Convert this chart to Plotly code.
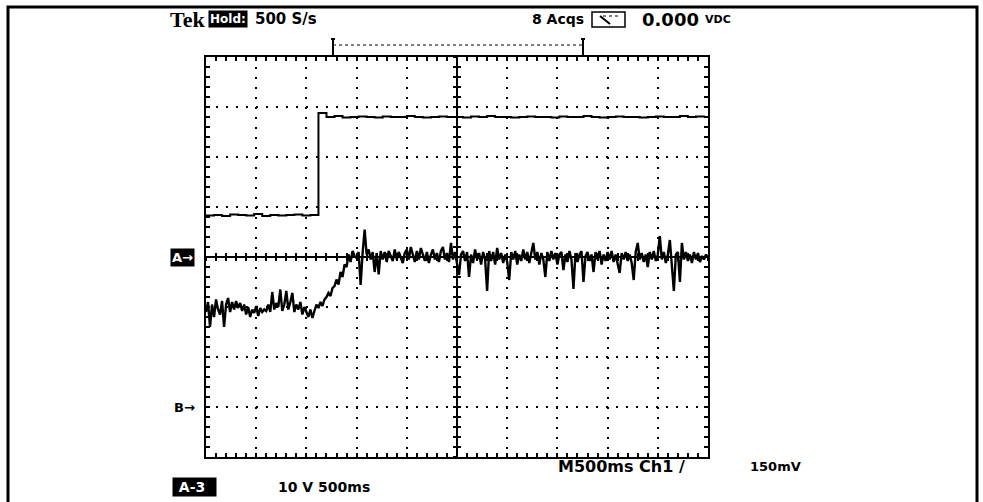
import plotly.graph_objects as go

# screen: 10 x 500 ms across, 8 divisions up/down, values in divisions
step_period = 0.08   # s between samples
noise_period = 0.02  # s between samples

step_trace = [
    0.83, 0.84, 0.82, 0.85, 0.84, 0.83, 0.86, 0.82, 0.84, 0.83, 0.84, 0.85, 0.83, 0.84,
    2.88, 2.80, 2.82, 2.79, 2.80, 2.81, 2.80, 2.79, 2.81, 2.80, 2.80, 2.82, 2.80, 2.79,
    2.80, 2.81, 2.80, 2.80, 2.79, 2.81, 2.80, 2.82, 2.80, 2.80, 2.79, 2.80, 2.81, 2.80,
    2.80, 2.79, 2.81, 2.80, 2.80, 2.82, 2.80, 2.79, 2.80, 2.81, 2.80, 2.80, 2.79, 2.80,
    2.81, 2.80, 2.80, 2.82, 2.80, 2.81, 2.80,
]

noise_trace = [
    -1.10, -0.90, -1.40, -0.95, -1.20, -0.85, -1.05, -1.15, -0.88, -1.40,
    -0.95, -0.82, -1.10, -0.90, -1.05, -0.88, -1.02, -0.92, -1.08, -0.95,
    -1.15, -1.00, -1.20, -1.05, -1.12, -0.98, -1.18, -1.02, -1.10, -1.05,
    -1.08, -0.95, -1.10, -0.70, -1.05, -0.92, -1.00, -0.65, -1.08, -0.95,
    -0.68, -1.05, -0.90, -0.72, -1.10, -0.95, -1.05, -0.90, -1.15, -1.00,
    -1.10, -1.20, -1.05, -1.22, -1.08, -0.95, -1.02, -0.90, -0.98, -0.85,
    -0.80, -0.72, -0.78, -0.62, -0.58, -0.45, -0.55, -0.30, -0.40, -0.15,
    -0.20, 0.05, -0.10, 0.12, 0.02, -0.02, 0.10, -0.56, 0.08, 0.55,
    0.05, 0.15, -0.05, 0.10, -0.30, 0.08, -0.35, 0.12, -0.05, 0.10,
    -0.10, 0.12, 0.02, -0.08, 0.15, -0.05, 0.10, 0.00, -0.12, 0.08,
    0.15, -0.05, 0.20, 0.05, -0.10, 0.12, -0.05, 0.18, 0.02, -0.08,
    0.10, -0.12, 0.05, 0.15, -0.05, 0.08, -0.10, 0.12, 0.20, -0.05,
    0.08, -0.10, 0.28, -0.05, 0.10, -0.15, -0.36, 0.05, 0.12, -0.08,
    0.10, -0.40, 0.05, -0.12, 0.15, -0.05, 0.08, -0.15, 0.10, -0.05,
    -0.68, 0.12, -0.08, 0.10, -0.15, 0.18, -0.05, 0.08, -0.12, 0.05,
    -0.10, -0.46, 0.10, -0.05, 0.12, -0.15, 0.05, -0.08, 0.15, -0.05,
    0.10, -0.12, 0.05, 0.28, -0.05, 0.10, -0.15, 0.08, -0.05, -0.40,
    0.10, -0.08, 0.12, -0.05, 0.08, -0.15, 0.05, 0.10, -0.26, 0.05,
    -0.10, 0.12, -0.05, -0.64, 0.08, -0.10, 0.05, 0.12, -0.50, 0.02,
    0.10, -0.08, 0.05, -0.30, 0.10, -0.05, 0.12, -0.15, 0.05, -0.08,
    0.10, -0.05, 0.12, -0.10, 0.05, -0.15, -0.32, 0.08, -0.05, 0.10,
    -0.08, 0.05, -0.12, -0.46, 0.10, 0.28, -0.05, 0.08, -0.10, 0.05,
    -0.20, 0.10, -0.05, 0.12, -0.08, 0.05, 0.42, -0.05, 0.10, -0.12,
    0.05, 0.34, -0.10, -0.68, 0.05, 0.10, -0.50, 0.28, -0.05, 0.10,
    -0.08, 0.05, -0.12, 0.10, -0.05, 0.08, -0.10, 0.02, -0.05, 0.05,
    -0.02,
]

step_time = [i * step_period for i in range(len(step_trace))]
noise_time = [i * noise_period for i in range(len(noise_trace))]

W, H = 983, 502
L, R, T, B = 206, 708, 57, 457
SANS = "DejaVu Sans"


def px(x, y):
    # screen pixel -> paper coordinates
    return (x - L) / (R - L), (B - y) / (B - T)


fig = go.Figure()
fig.add_trace(go.Scatter(x=step_time, y=step_trace, mode="lines", line_shape="hv",
                         line=dict(color="black", width=2)))
fig.add_trace(go.Scatter(x=noise_time, y=noise_trace, mode="lines",
                         line=dict(color="black", width=2.4)))
# empty traces so the centre-cross overlay axes get drawn
for xa, ya in [("x2", "y"), ("x3", "y"), ("x", "y2"), ("x", "y3")]:
    fig.add_trace(go.Scatter(x=[None], y=[None], xaxis=xa, yaxis=ya, hoverinfo="skip"))

frame = dict(showline=True, linecolor="black", linewidth=2, mirror="ticks",
             ticks="inside", ticklen=4, tickwidth=2, tickcolor="black",
             showticklabels=False, zeroline=False, showgrid=True, gridcolor="black",
             gridwidth=2, griddash="2px,8px", fixedrange=True)
cross = dict(showline=True, linecolor="black", linewidth=2, ticklen=3, tickwidth=2,
             tickcolor="black", showticklabels=False, zeroline=False, showgrid=False,
             anchor="free", position=0.5)

fig.update_layout(
    width=W, height=H, showlegend=False,
    margin=dict(l=L, r=W - R, t=T, b=H - B),
    plot_bgcolor="white", paper_bgcolor="white",
    xaxis=dict(range=[0, 5], dtick=0.5, tick0=0,
               minor=dict(dtick=0.1, ticks="inside", ticklen=4, tickwidth=2,
                          tickcolor="black", showgrid=False), **frame),
    yaxis=dict(range=[-4, 4], dtick=1, tick0=0,
               minor=dict(dtick=0.2, ticks="inside", ticklen=4, tickwidth=2,
                          tickcolor="black", showgrid=False), **frame),
    xaxis2=dict(overlaying="x", range=[0, 5], dtick=0.1, ticks="inside", **cross),
    xaxis3=dict(overlaying="x", range=[0, 5], dtick=0.1, ticks="outside", **cross),
    yaxis2=dict(overlaying="y", range=[-4, 4], dtick=0.2, ticks="inside", **cross),
    yaxis3=dict(overlaying="y", range=[-4, 4], dtick=0.2, ticks="outside", **cross),
)


def seg(xa, ya, xb, yb, width=2, dash=None):
    p0 = px(xa, ya)
    p1 = px(xb, yb)
    line = dict(color="black", width=width)
    if dash:
        line["dash"] = dash
    return dict(type="line", xref="paper", yref="paper",
                x0=p0[0], y0=p0[1], x1=p1[0], y1=p1[1], line=line)


shapes = []
# outer frame of the screen grab
fx0, fy0 = px(8, 7)
fx1, fy1 = px(977, 530)
shapes.append(dict(type="rect", xref="paper", yref="paper", x0=fx0, y0=fy1, x1=fx1, y1=fy0,
                   line=dict(color="black", width=3)))
# record-length bracket
shapes.append(seg(333, 45, 583, 45, width=1, dash="dot"))
for xe in (333, 583):
    shapes.append(seg(xe, 38, xe, 56))
    shapes.append(seg(xe - 2, 39, xe + 2, 39))
# meter icon
mx0, my0 = px(592, 12)
mx1, my1 = px(625, 27)
shapes.append(dict(type="rect", xref="paper", yref="paper", x0=mx0, y0=my1, x1=mx1, y1=my0,
                   line=dict(color="black", width=1.5)))
shapes.append(seg(600, 16, 610, 24))
shapes.append(seg(603, 16, 620, 16, width=1, dash="dot"))
fig.update_layout(shapes=shapes)


def label(text, x, y, size=15, inverse=False, family=SANS, anchor="left"):
    ax, ay = px(x, y)
    fig.add_annotation(text=text, x=ax, y=ay, xref="paper", yref="paper",
                       xanchor=anchor, yanchor="middle", showarrow=False,
                       font=dict(family=family, size=size,
                                 color="white" if inverse else "black"),
                       bgcolor="black" if inverse else None, borderpad=1)


label("<b>Tek</b>", 168, 19, size=22, family="Liberation Serif")
label("<b>Hold:</b>", 208, 19, size=12, inverse=True)
label("<b>500 S/s</b>", 253, 19, size=15)
label("<b>8 Acqs</b>", 530, 19, size=14)
label("<b>0.000</b>", 640, 19, size=18)
label("<b>VDC</b>", 703, 20, size=11)
label("<b>A\u2192</b>", 170, 257, size=13, inverse=True)
label("<b>B\u2192</b>", 172, 407, size=13)
label("<b>M500ms Ch1 /</b>", 556, 467, size=16)
label("<b>150mV</b>", 748, 467, size=13)
label("<b>\u00a0A-3\u00a0\u00a0</b>", 172, 487, size=14, inverse=True)
label("<b>10 V 500ms</b>", 276, 487, size=14)

fig.write_html("out.html", config={"displayModeBar": False},
               post_script="document.body.style.margin = '0px';")
